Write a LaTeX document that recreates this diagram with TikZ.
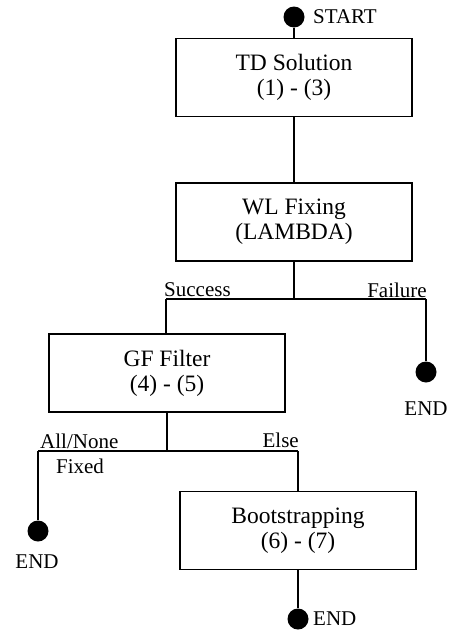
\documentclass[tikz,border=0pt]{standalone}
\usepackage{fontspec}
\setmainfont{Liberation Serif}
\begin{document}
\begin{tikzpicture}[x=1pt,y=-1pt,
  box/.style={draw,line width=1.6pt,minimum width=236pt,minimum height=78pt,inner sep=0pt,align=center,font=\fontsize{23.5}{25}\selectfont},
  dot/.style={circle,fill=black,inner sep=0pt,minimum size=21pt},
  lbl/.style={inner sep=0pt,font=\fontsize{21}{23}\selectfont},
  conn/.style={line width=1.6pt}]
\useasboundingbox (0,0) rectangle (448,632);
\node[dot] (start) at (294,17) {};
\node[lbl,anchor=west] (starttxt) at (313,17) {START};
\node[box] (td) at (294,77.5) {TD Solution\\(1) - (3)};
\node[box] (wl) at (294,222) {WL Fixing\\(LAMBDA)};
\coordinate (j1) at (294,299);
\coordinate (j1l) at (166,299);
\coordinate (j1r) at (426,299);
\node[lbl,anchor=west] (succ) at (164,290) {Success};
\node[lbl,anchor=east] (fail) at (427,290) {Failure};
\node[box] (gf) at (167,373) {GF Filter\\(4) - (5)};
\node[dot] (end1) at (426,372) {};
\node[lbl] (end1txt) at (426,409) {END};
\coordinate (j2) at (167,451);
\coordinate (j2l) at (38,451);
\coordinate (j2r) at (298,451);
\node[lbl,anchor=west] (allnone) at (40,441) {All/None};
\node[lbl] (fixed) at (80,466) {Fixed};
\node[lbl,anchor=east] (else) at (299,440) {Else};
\node[dot] (end2) at (38,531) {};
\node[lbl] (end2txt) at (37,562) {END};
\node[box] (bs) at (298,530.5) {Bootstrapping\\(6) - (7)};
\node[dot] (end3) at (298,619) {};
\node[lbl,anchor=west] (end3txt) at (313,619) {END};
\draw[conn] (start) -- (td);
\draw[conn] (td) -- (wl);
\draw[conn] (wl) -- (j1);
\draw[conn] (j1l) -- (j1r);
\draw[conn] (j1l) -- (gf.north -| j1l);
\draw[conn] (j1r) -- (end1);
\draw[conn] (gf) -- (j2);
\draw[conn] (j2l) -- (j2r);
\draw[conn] (j2l) -- (end2);
\draw[conn] (j2r) -- (bs.north -| j2r);
\draw[conn] (bs.south -| end3) -- (end3);
\end{tikzpicture}
\end{document}
